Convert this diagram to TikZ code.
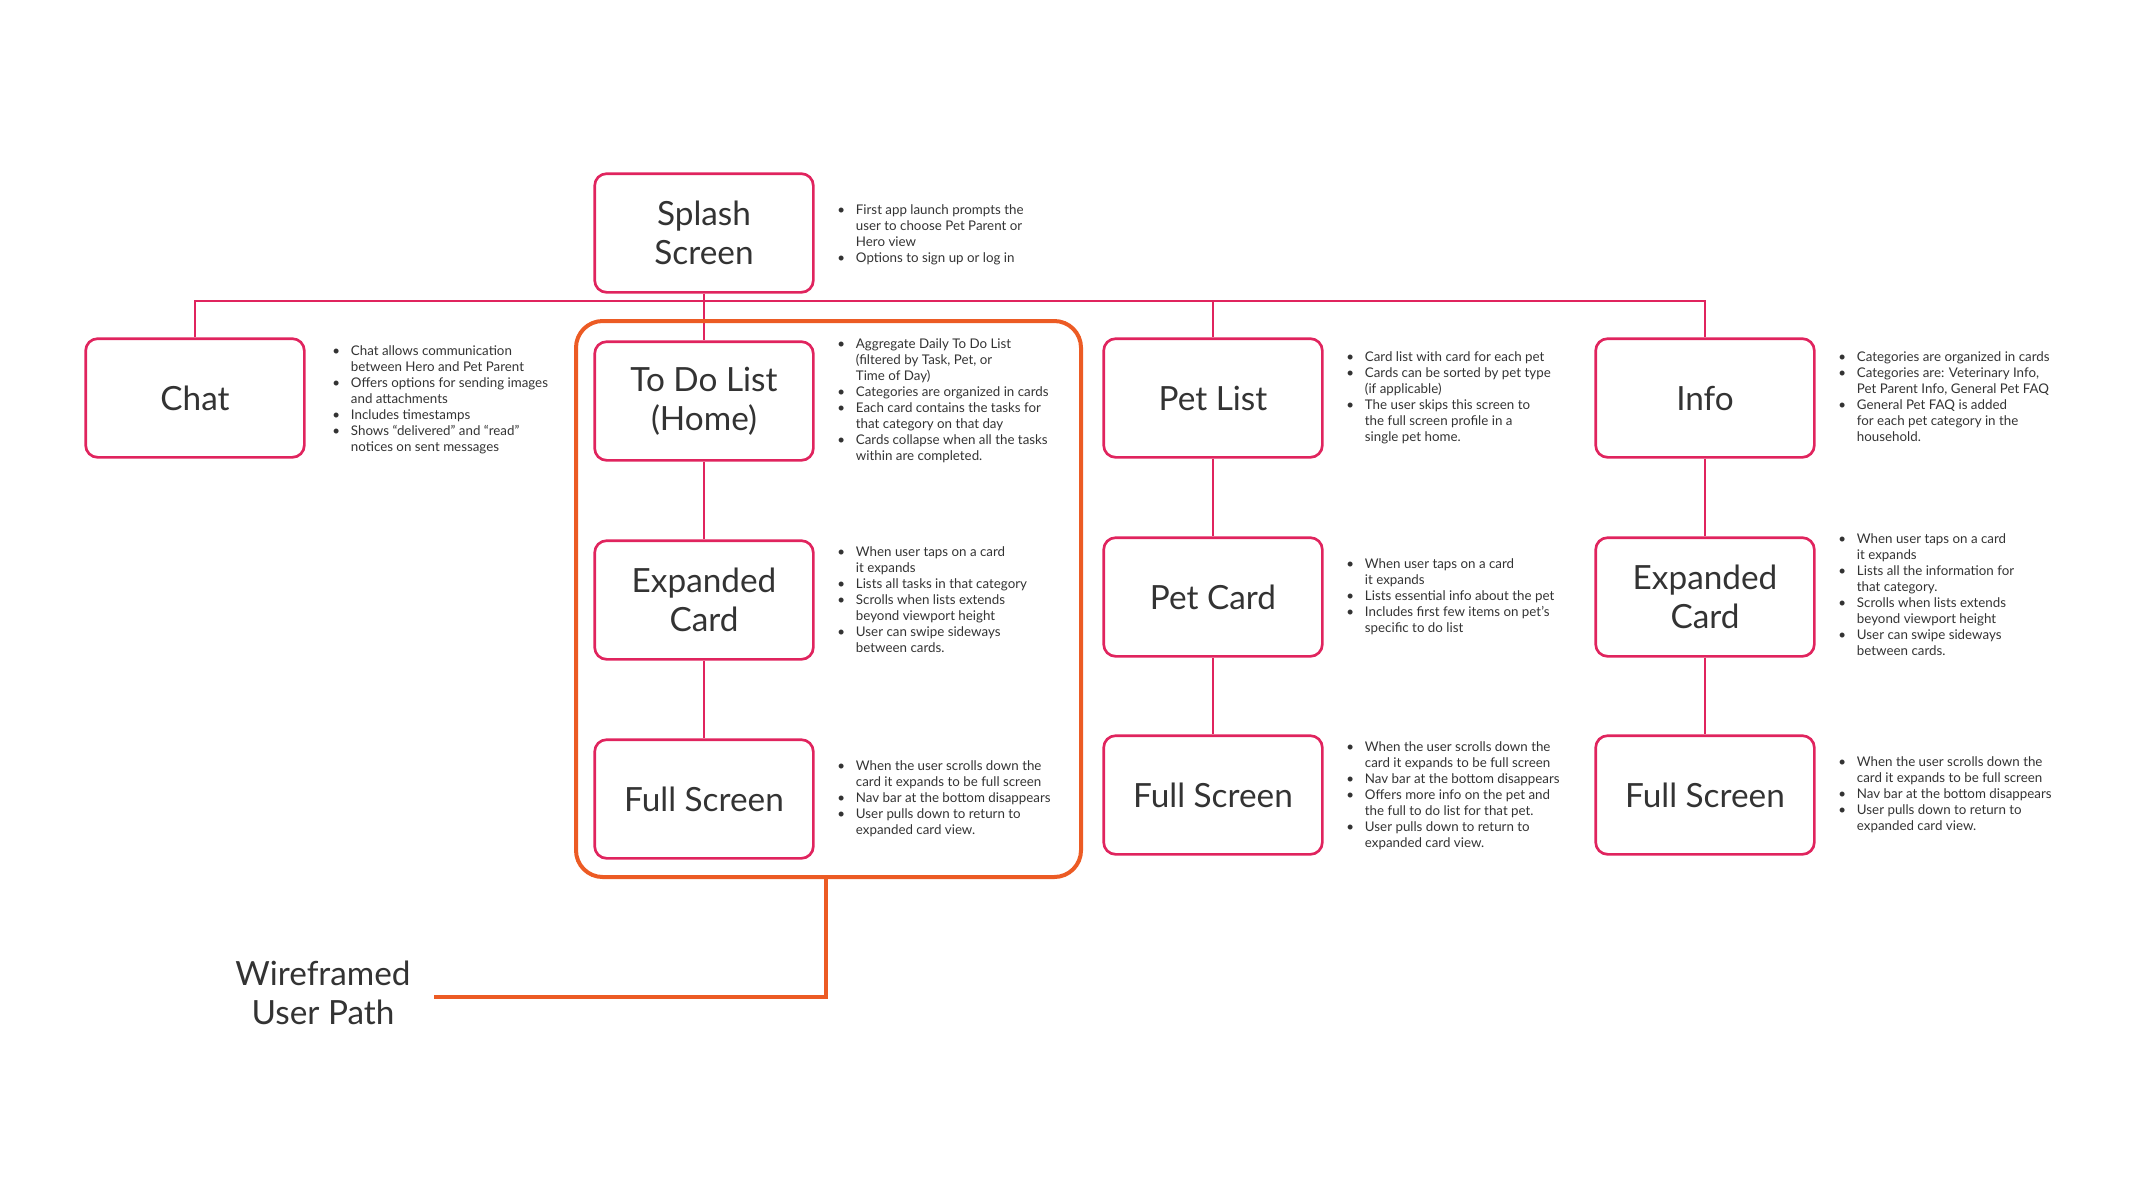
\documentclass[tikz,border=0pt]{standalone}
\usepackage{fontspec}
\setmainfont{Lato}
\usetikzlibrary{positioning}
\definecolor{pinkline}{HTML}{E0245E}
\definecolor{orangeline}{HTML}{EC5B24}
\definecolor{inkgray}{HTML}{333333}
\newcommand{\bl}{\textbullet}
\newcommand{\notelist}[1]{\begin{tabular}{@{}p{14pt}@{}l@{}}#1\end{tabular}}

\begin{document}
\begin{tikzpicture}[x=0.75pt,y=-0.75pt,
  screen/.style={draw=pinkline,line width=2pt,rounded corners=9pt,minimum width=164pt,
    minimum height=89pt,align=center,font=\fontsize{25}{29}\selectfont,text=inkgray},
  note/.style={anchor=north west,inner sep=0pt,align=left,font=\fontsize{10}{12}\selectfont,text=inkgray},
  link/.style={draw=pinkline,line width=2pt}]

\useasboundingbox (0,0) rectangle (2134,1200);

% screens
\node[screen] (splash) at (704,233) {Splash\\Screen};
\node[screen] (chat) at (195,398) {Chat};
\node[screen] (todo) at (704,401) {To Do List\\(Home)};
\node[screen] (todoexp) at (704,600) {Expanded\\Card};
\node[screen] (todofull) at (704,799) {Full Screen};
\node[screen] (pet) at (1213,398) {Pet List};
\node[screen] (petcard) at (1213,597) {Pet Card};
\node[screen] (petfull) at (1213,795) {Full Screen};
\node[screen] (info) at (1705,398) {Info};
\node[screen] (infoexp) at (1705,597) {Expanded\\Card};
\node[screen] (infofull) at (1705,795) {Full Screen};

% connectors
\coordinate (barL) at (195,301);
\coordinate (barR) at (1705,301);
\draw[link] (chat.north) -- (barL) -- (barR) -- (info.north);
\draw[link] (pet.north) -- (pet.north |- barL);
\draw[link] (splash.south) -- (todo.north);
\draw[link] (todo) -- (todoexp) -- (todofull);
\draw[link] (pet) -- (petcard) -- (petfull);
\draw[link] (info) -- (infoexp) -- (infofull);

% wireframed path
\draw[orangeline,line width=3pt,rounded corners=20pt] (576,321) rectangle (1081,877);
\coordinate (pathstart) at (826,877);
\node[text=inkgray,font=\fontsize{25}{29}\selectfont,align=center] (wire) at (323,993) {Wireframed\\User Path};
\draw[orangeline,line width=3pt] (pathstart) |- ([xshift=14pt]wire.east |- 0,997);

% notes
\node[note] (splashnote) at (837,203) {\notelist{\bl & First app launch prompts the\\ & user to choose Pet Parent or\\ & Hero view\\ \bl & Options to sign up or log in}};
\node[note] (chatnote) at (332,344) {\notelist{\bl & Chat allows communication\\ & between Hero and Pet Parent\\ \bl & Offers options for sending images\\ & and attachments\\ \bl & Includes timestamps\\ \bl & Shows ``delivered'' and ``read''\\ & notices on sent messages}};
\node[note] (todonote) at (837,337) {\notelist{\bl & Aggregate Daily To Do List\\ & (filtered by Task, Pet, or\\ & Time of Day)\\ \bl & Categories are organized in cards\\ \bl & Each card contains the tasks for\\ & that category on that day\\ \bl & Cards collapse when all the tasks\\ & within are completed.}};
\node[note] (todoexpnote) at (837,545) {\notelist{\bl & When user taps on a card\\ & it expands\\ \bl & Lists all tasks in that category\\ \bl & Scrolls when lists extends\\ & beyond viewport height\\ \bl & User can swipe sideways\\ & between cards.}};
\node[note] (todofullnote) at (837,759) {\notelist{\bl & When the user scrolls down the\\ & card it expands to be full screen\\ \bl & Nav bar at the bottom disappears\\ \bl & User pulls down to return to\\ & expanded card view.}};
\node[note] (petnote) at (1346,350) {\notelist{\bl & Card list with card for each pet\\ \bl & Cards can be sorted by pet type\\ & (if applicable)\\ \bl & The user skips this screen to\\ & the full screen profile in a\\ & single pet home.}};
\node[note] (petcardnote) at (1346,557) {\notelist{\bl & When user taps on a card\\ & it expands\\ \bl & Lists essential info about the pet\\ \bl & Includes first few items on pet's\\ & specific to do list}};
\node[note] (petfullnote) at (1346,740) {\notelist{\bl & When the user scrolls down the\\ & card it expands to be full screen\\ \bl & Nav bar at the bottom disappears\\ \bl & Offers more info on the pet and\\ & the full to do list for that pet.\\ \bl & User pulls down to return to\\ & expanded card view.}};
\node[note] (infonote) at (1838,350) {\notelist{\bl & Categories are organized in cards\\ \bl & Categories are: Veterinary Info,\\ & Pet Parent Info, General Pet FAQ\\ \bl & General Pet FAQ is added\\ & for each pet category in the\\ & household.}};
\node[note] (infoexpnote) at (1838,532) {\notelist{\bl & When user taps on a card\\ & it expands\\ \bl & Lists all the information for\\ & that category.\\ \bl & Scrolls when lists extends\\ & beyond viewport height\\ \bl & User can swipe sideways\\ & between cards.}};
\node[note] (infofullnote) at (1838,755) {\notelist{\bl & When the user scrolls down the\\ & card it expands to be full screen\\ \bl & Nav bar at the bottom disappears\\ \bl & User pulls down to return to\\ & expanded card view.}};

\end{tikzpicture}
\end{document}
